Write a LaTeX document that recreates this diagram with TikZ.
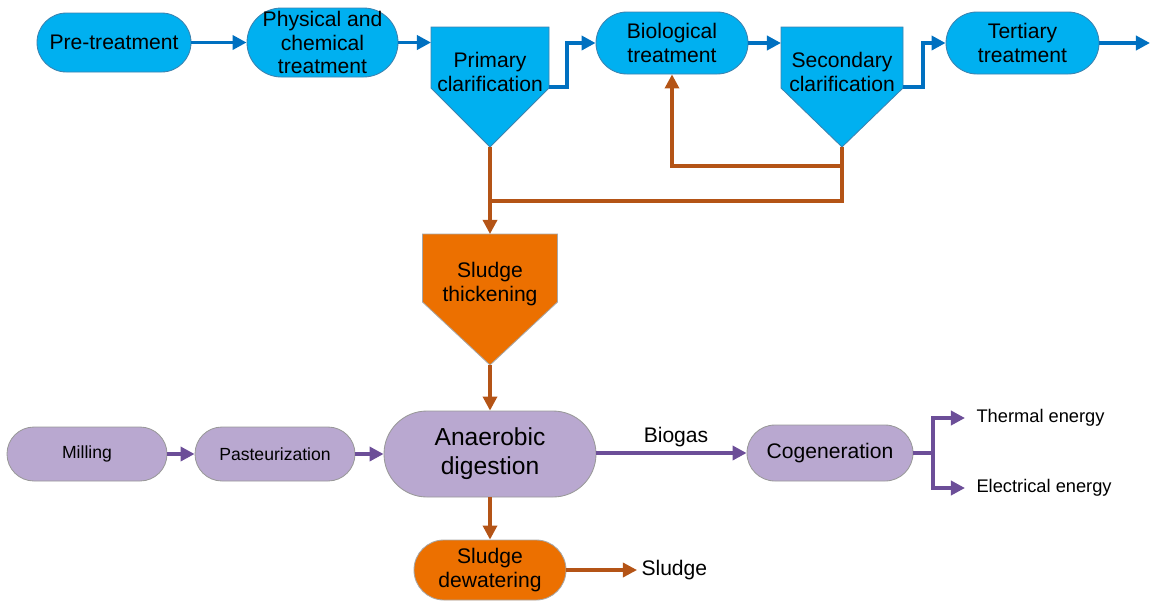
\documentclass[tikz,border=0pt]{standalone}
\usepackage{fontspec}
\setmainfont{Liberation Sans}
\usetikzlibrary{arrows.meta,calc}
\definecolor{skyfill}{RGB}{0,176,240}
\definecolor{skyedge}{RGB}{60,130,175}
\definecolor{blueline}{RGB}{0,112,192}
\definecolor{sludgefill}{RGB}{236,112,0}
\definecolor{sludgeline}{RGB}{180,84,22}
\definecolor{lilacfill}{RGB}{185,168,208}
\definecolor{lilacline}{RGB}{108,78,152}

\tikzset{
	stadium/.style 2 args={rectangle, rounded corners=#2*0.0125cm-0.05pt, minimum width=#1*0.025cm, minimum height=#2*0.025cm, inner sep=0pt, align=center},
	bluebox/.style={fill=skyfill, draw=skyedge, line width=0.6pt},
	orangebox/.style={fill=sludgefill, draw=black!35, line width=0.6pt},
	lilacbox/.style={fill=lilacfill, draw=black!40, line width=0.6pt},
	txt/.style={font=\fontsize{15}{16.8}\selectfont, align=center},
	bigtxt/.style={font=\fontsize{17.5}{20.6}\selectfont, align=center},
	smalltxt/.style={font=\fontsize{12.5}{15}\selectfont, align=center},
	blueflow/.style={draw=blueline, line width=2.6pt, -{Triangle[length=10pt,width=10pt]}},
	brownflow/.style={draw=sludgeline, line width=2.3pt, -{Triangle[length=10pt,width=10pt]}},
	brownline/.style={draw=sludgeline, line width=2.3pt},
	lilacflow/.style={draw=lilacline, line width=2.5pt, -{Triangle[length=10pt,width=10pt]}},
	lilacline/.style={draw=lilacline, line width=2.5pt}
}

\begin{document}
\begin{tikzpicture}[x=0.025cm, y=-0.025cm]
	%%%%% START %%%%%
	\useasboundingbox (0, 0) rectangle (1150, 600);
	
	% wastewater line
	\node[stadium={154}{59}, bluebox, txt] (pre) at (114, 42.5) {Pre-treatment};
	\node[stadium={151}{69}, bluebox, txt] (phys) at (322.5, 42.5) {Physical and\\chemical\\treatment};
	
	\draw[bluebox] (431, 27) -- (549, 27) -- (549, 88) -- (490, 147) -- (431, 88) -- cycle;
	\coordinate (prim-in) at (431, 42.5);
	\coordinate (prim-out) at (549, 87);
	\coordinate (prim-tip) at (490, 147);
	\node[txt] (prim) at (490, 72) {Primary\\clarification};
	
	\node[stadium={152}{62}, bluebox, txt] (bio) at (672, 43) {Biological\\treatment};
	
	\draw[bluebox] (781, 27) -- (903, 27) -- (903, 88) -- (842, 147) -- (781, 88) -- cycle;
	\coordinate (sec-in) at (781, 43);
	\coordinate (sec-out) at (903, 87);
	\coordinate (sec-tip) at (842, 147);
	\node[txt] (sec) at (842, 72) {Secondary\\clarification};
	
	\node[stadium={153}{62}, bluebox, txt] (tert) at (1022.5, 43) {Tertiary\\treatment};
	\coordinate (exit) at (1150, 43);
	
	\draw[blueflow] (pre.east) -- (phys.west);
	\draw[blueflow] (phys.east) -- (prim-in);
	\draw[blueflow] (prim-out) -- ++(18, 0) |- (bio.west);
	\draw[blueflow] (bio.east) -- (sec-in);
	\draw[blueflow] (sec-out) -- ++(20, 0) |- (tert.west);
	\draw[blueflow] (tert.east) -- (exit);
	
	% sludge line
	\draw[orangebox] (422.5, 234) -- (557.5, 234) -- (557.5, 302) -- (490, 365) -- (422.5, 302) -- cycle;
	\coordinate (thick-top) at (490, 234);
	\coordinate (thick-tip) at (490, 365);
	\node[txt] (thick) at (490, 284) {Sludge\\thickening};
	
	\coordinate (join) at (490, 201);
	\draw[brownflow] (prim-tip) -- (thick-top);
	\draw[brownflow] (sec-tip) -- ++(0, 19) -| (bio.south);
	\draw[brownline] (sec-tip) |- (join);
	
	\node[stadium={212}{86}, lilacbox, bigtxt] (dig) at (490, 454) {Anaerobic\\digestion};
	\node[stadium={152}{60}, orangebox, txt] (dew) at (490, 570) {Sludge\\dewatering};
	\node[txt, anchor=west, inner xsep=3pt] (sludge) at (637, 570) {Sludge};
	
	\draw[brownflow] (thick-tip) -- (dig.north);
	\draw[brownflow] (dig.south) -- (dew.north);
	\draw[brownflow] (dew.east) -- (sludge.west);
	
	% pre-processing and biogas
	\node[stadium={160}{54}, lilacbox, smalltxt] (mill) at (87, 454) {Milling};
	\node[stadium={160}{54}, lilacbox, smalltxt] (past) at (275, 454) {Pasteurization};
	\node[stadium={166}{56}, lilacbox, txt] (cog) at (830, 453) {Cogeneration};
	
	\draw[lilacflow] (mill.east) -- (past.west);
	\draw[lilacflow] (past.east) -- (dig.west);
	\draw[lilacflow] (dig.east |- cog.west) -- node[txt, above, pos=0.53] {Biogas} (cog.west);
	
	\coordinate (fork) at (933, 453);
	\node[smalltxt, font=\fontsize{13}{15}\selectfont, anchor=west, inner xsep=8pt] (therm) at (965, 418) {Thermal energy};
	\node[smalltxt, font=\fontsize{13}{15}\selectfont, anchor=west, inner xsep=8pt] (elec) at (965, 488) {Electrical energy};
	
	\draw[lilacline] (cog.east) -- (fork);
	\draw[lilacflow] (fork) |- (therm.west);
	\draw[lilacflow] (fork) |- (elec.west);
	
	%%%%% END %%%%%
\end{tikzpicture}
\end{document}
